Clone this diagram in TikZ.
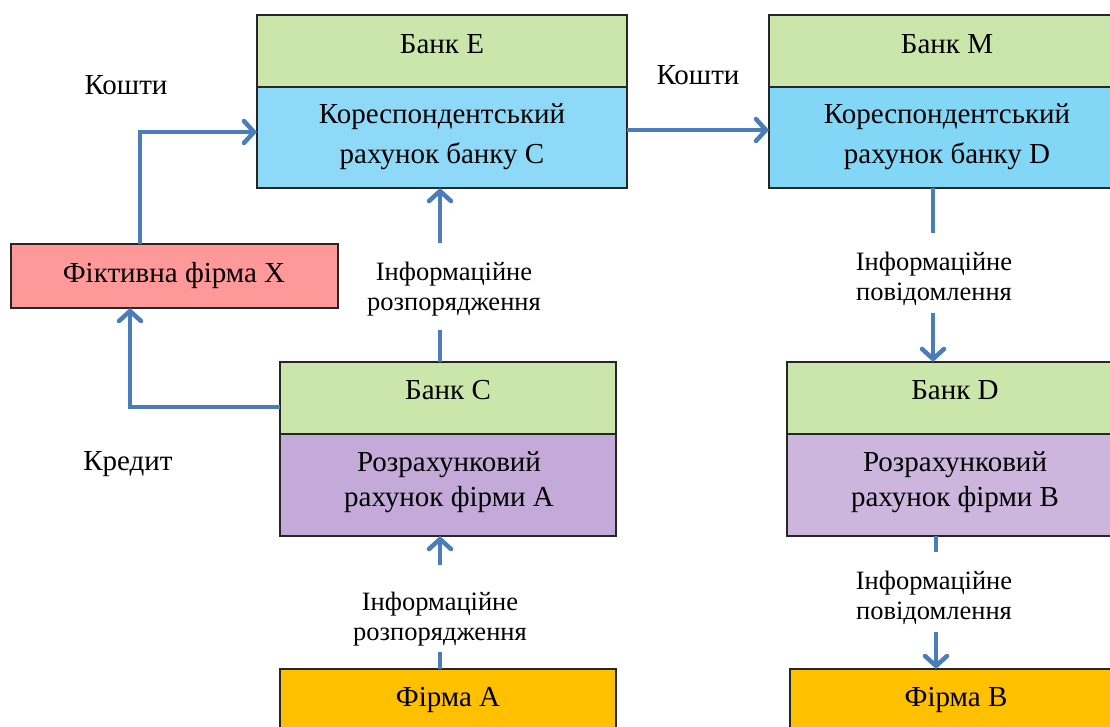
\documentclass[tikz,border=0pt]{standalone}
\usepackage{fontspec}
\setmainfont{Liberation Serif}
\usetikzlibrary{arrows.meta}
\definecolor{gr}{RGB}{202,230,170}
\definecolor{blE}{RGB}{142,217,247}
\definecolor{blM}{RGB}{130,214,246}
\definecolor{pk}{RGB}{255,153,153}
\definecolor{puC}{RGB}{195,170,217}
\definecolor{puD}{RGB}{204,182,222}
\definecolor{go}{RGB}{255,192,0}
\definecolor{ar}{RGB}{74,126,187}
\begin{document}
\begin{tikzpicture}[x=1pt,y=-1pt,
  box/.style={draw=black!85, line width=1.3pt, inner sep=0pt, outer sep=0pt},
  btxt/.style={font=\fontsize{29}{40}\selectfont, align=center, inner sep=0pt},
  ptxt/.style={font=\fontsize{29}{35}\selectfont, align=center, inner sep=0pt},
  ltxt/.style={font=\fontsize{26.5}{30}\selectfont, align=center, inner sep=0pt},
  conn/.style={draw=ar, line width=4.5pt},
  arr/.style={conn, -{Straight Barb[length=10pt,width=22pt,line cap=round]}}
]
\useasboundingbox (0,0) rectangle (1110,726);
\clip (0,0) rectangle (1110,726);
% boxes
\node[box, fill=gr, minimum width=370pt, minimum height=72pt] (Eg) at (442,51) {};
\node[box, fill=blE, minimum width=370pt, minimum height=101pt] (Eb) at (442,137.5) {};
\node[box, fill=gr, minimum width=356pt, minimum height=72pt] (Mg) at (947,51) {};
\node[box, fill=blM, minimum width=356pt, minimum height=101pt] (Mb) at (947,137.5) {};
\node[box, fill=pk, minimum width=327pt, minimum height=64pt] (X) at (174.5,276) {};
\node[box, fill=gr, minimum width=336pt, minimum height=72pt] (Cg) at (448,398) {};
\node[box, fill=puC, minimum width=336pt, minimum height=102pt] (Cp) at (448,485) {};
\node[box, fill=gr, minimum width=336pt, minimum height=72pt] (Dg) at (955,398) {};
\node[box, fill=puD, minimum width=336pt, minimum height=102pt] (Dp) at (955,485) {};
\node[box, fill=go, minimum width=336pt, minimum height=64pt] (FA) at (448,701) {};
\node[box, fill=go, minimum width=332pt, minimum height=64pt] (FB) at (956,701) {};
% box texts
\node[btxt] (tEg) at (442,44) {Банк Е};
\node[btxt] (tEb) at (442,137) {Кореспондентський\\рахунок банку С};
\node[btxt] (tMg) at (947,44) {Банк М};
\node[btxt] (tMb) at (947,137) {Кореспондентський\\рахунок банку D};
\node[btxt] (tX) at (174,275.5) {Фіктивна фірма Х};
\node[btxt] (tCg) at (448,390) {Банк С};
\node[ptxt] (tCp) at (449,482.5) {Розрахунковий\\рахунок фірми А};
\node[btxt] (tDg) at (955,390) {Банк D};
\node[ptxt] (tDp) at (955,482.5) {Розрахунковий\\рахунок фірми В};
\node[btxt] (tFA) at (448,700) {Фірма А};
\node[btxt] (tFB) at (956,700) {Фірма В};
% free labels
\node[btxt] (k1) at (126,85) {Кошти};
\node[btxt] (k2) at (698,75) {Кошти};
\node[btxt] (kr) at (128,464) {Кредит};
\node[ltxt] (iC) at (454,289) {Інформаційне\\розпорядження};
\node[ltxt] (iM) at (934,279) {Інформаційне\\повідомлення};
\node[ltxt] (iA) at (440,619) {Інформаційне\\розпорядження};
\node[ltxt] (iD) at (934,598) {Інформаційне\\повідомлення};
% connector ends
\coordinate (c1) at (440,330);
\coordinate (c2) at (440,243);
\coordinate (m1) at (933,233);
\coordinate (m2) at (933,313);
\coordinate (a1) at (440,652);
\coordinate (a2) at (440,565);
\coordinate (d1) at (936,552);
\coordinate (d2) at (936,632);
% connectors
\draw[arr] ([xshift=-34.5pt]X.north) |- ([yshift=5.5pt]Eb.west);
\draw[arr] ([yshift=-9pt]Cg.west) -| ([xshift=-44.5pt]X.south);
\draw[arr] ([yshift=7.5pt]Eb.east) -- ([yshift=7.5pt]Mb.west);
\draw[conn] (Cg.north -| c1) -- (c1);
\draw[arr] (c2) -- (Eb.south -| c2);
\draw[conn] (Mb.south -| m1) -- (m1);
\draw[arr] (m2) -- (Dg.north -| m2);
\draw[conn] (FA.north -| a1) -- (a1);
\draw[arr] (a2) -- (Cp.south -| a2);
\draw[conn] (Dp.south -| d1) -- (d1);
\draw[arr] (d2) -- (FB.north -| d2);
\end{tikzpicture}
\end{document}
